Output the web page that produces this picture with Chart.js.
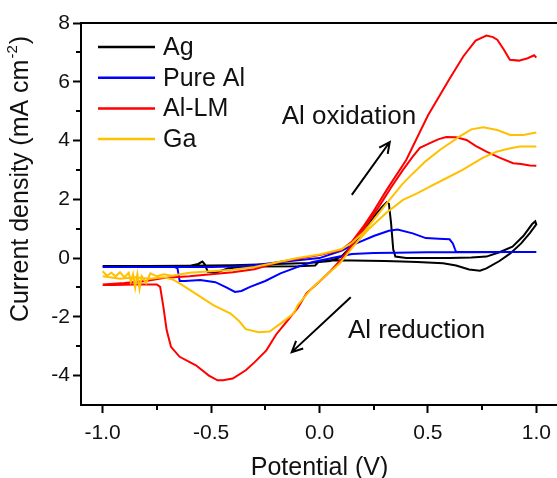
<!DOCTYPE html>
<html>
<head>
<meta charset="utf-8">
<script src="https://cdn.jsdelivr.net/npm/chart.js@4.4.1/dist/chart.umd.min.js"></script>
<style>
    html, body { margin: 0; padding: 0; background: #fff; overflow: hidden; }
    #wrap { width: 600px; height: 478px; }
</style>
</head>
<body>
<div id="wrap"><canvas id="cvChart" width="600" height="478"></canvas></div>
<script>
const seriesLabels = ['Ag', 'Pure Al', 'Al-LM', 'Ga'];
const seriesColors = ['#000000', '#0000ff', '#ff0000', '#ffc000'];

// Ag
const agX = [-1.0, -0.8, -0.6, -0.4, -0.2, -0.05, 0.05, 0.1, 0.15, 0.2, 0.25, 0.29, 0.31, 0.32, 0.33, 0.34, 0.35, 0.4, 0.5, 0.6, 0.7, 0.77, 0.83, 0.89, 0.94, 0.98, 0.995, 1.0,
    0.97, 0.93, 0.88, 0.83, 0.77, 0.74, 0.69, 0.63, 0.57, 0.45, 0.38, 0.3, 0.15, 0.05, 0.0, -0.02, -0.1, -0.3, -0.42, -0.47, -0.515, -0.53, -0.54, -0.56, -0.6, -0.8, -1.0];
const agY = [-0.27, -0.27, -0.26, -0.24, -0.2, -0.17, -0.1, 0.05, 0.42, 0.9, 1.4, 1.75, 1.9, 1.85, 1.2, 0.3, 0.05, 0.0, 0.0, 0.0, 0.02, 0.05, 0.2, 0.39, 0.75, 1.15, 1.25, 1.15,
    0.85, 0.5, 0.16, -0.1, -0.35, -0.43, -0.39, -0.25, -0.18, -0.13, -0.12, -0.1, -0.08, -0.07, -0.1, -0.25, -0.28, -0.29, -0.35, -0.47, -0.47, -0.2, -0.12, -0.2, -0.27, -0.28, -0.28];

// Pure Al
const alX = [-1.0, -0.8, -0.66, -0.5, -0.4, -0.3, -0.2, -0.1, 0.0, 0.1, 0.17, 0.25, 0.32, 0.36, 0.43, 0.49, 0.55, 0.6, 0.615, 0.625, 0.63, 0.7, 0.8, 0.9, 1.0,
    0.9, 0.7, 0.5, 0.35, 0.25, 0.15, 0.08, -0.03, -0.1, -0.18, -0.25, -0.32, -0.36, -0.39, -0.43, -0.48, -0.55, -0.62, -0.645, -0.655, -0.67, -0.8, -1.0];
const alY = [-0.3, -0.3, -0.3, -0.3, -0.29, -0.24, -0.15, -0.07, 0.0, 0.25, 0.5, 0.75, 0.93, 0.97, 0.84, 0.68, 0.66, 0.64, 0.5, 0.3, 0.21, 0.21, 0.21, 0.21, 0.21,
    0.21, 0.2, 0.2, 0.18, 0.17, 0.14, 0.04, -0.13, -0.3, -0.52, -0.78, -0.98, -1.12, -1.15, -1.0, -0.82, -0.75, -0.78, -0.78, -0.35, -0.3, -0.3, -0.3];

// Al-LM (null marks the break between the two sweeps at 1.0 V)
const lmX = [-1.0, -0.9, -0.8, -0.72, -0.6, -0.5, -0.4, -0.3, -0.18, -0.1, 0.0, 0.1, 0.15, 0.2, 0.25, 0.31, 0.4, 0.5, 0.6, 0.663, 0.72, 0.77, 0.8, 0.82, 0.85, 0.878, 0.92, 0.96, 0.99, 1.0, 1.0,
    1.0, 0.97, 0.93, 0.893, 0.83, 0.77, 0.72, 0.678, 0.63, 0.585, 0.55, 0.509, 0.463, 0.43, 0.385, 0.33, 0.27, 0.19, 0.14, 0.1, 0.05, 0.0, -0.06, -0.1, -0.15, -0.2, -0.245, -0.3, -0.34, -0.4, -0.445, -0.47, -0.51, -0.57, -0.645, -0.685, -0.705, -0.72, -0.735, -0.75, -0.85, -0.95, -1.0];
const lmY = [-0.9, -0.85, -0.78, -0.68, -0.62, -0.55, -0.48, -0.38, -0.12, -0.02, 0.1, 0.27, 0.56, 1.05, 1.6, 2.32, 3.34, 4.85, 6.1, 6.86, 7.4, 7.57, 7.52, 7.43, 7.1, 6.75, 6.72, 6.8, 6.9, 6.82, null,
    3.14, 3.15, 3.2, 3.23, 3.42, 3.62, 3.82, 4.02, 4.11, 4.12, 4.05, 3.91, 3.75, 3.45, 3.0, 2.4, 1.7, 0.85, 0.35, -0.05, -0.45, -0.8, -1.2, -1.7, -2.15, -2.6, -3.14, -3.55, -3.82, -4.1, -4.16, -4.16, -4.0, -3.65, -3.36, -3.02, -2.45, -1.66, -0.98, -0.9, -0.9, -0.92, -0.92];

// Ga (null marks the break between the two sweeps at 1.0 V)
const gaX = [-1.0, -0.98, -0.96, -0.94, -0.92, -0.9, -0.88, -0.87, -0.86, -0.85, -0.84, -0.83, -0.82, -0.8, -0.78, -0.75, -0.72, -0.68, -0.6, -0.5, -0.4, -0.3, -0.2, -0.1, 0.0, 0.1, 0.15, 0.2, 0.25, 0.31, 0.38, 0.432, 0.49, 0.555, 0.647, 0.7, 0.755, 0.82, 0.88, 0.94, 1.0, 1.0,
    1.0, 0.924, 0.87, 0.817, 0.75, 0.66, 0.58, 0.509, 0.45, 0.385, 0.31, 0.23, 0.155, 0.094, 0.06, -0.03, -0.1, -0.12, -0.18, -0.23, -0.28, -0.34, -0.37, -0.41, -0.49, -0.57, -0.645, -0.68, -0.72, -0.78, -0.85, -0.92, -1.0];
const gaY = [-0.45, -0.6, -0.5, -0.62, -0.48, -0.66, -0.5, -0.8, -0.55, -1.0, -0.55, -1.05, -0.62, -0.85, -0.52, -0.62, -0.55, -0.6, -0.5, -0.45, -0.4, -0.3, -0.15, 0.0, 0.12, 0.3, 0.52, 0.85, 1.3, 1.86, 2.5, 2.89, 3.3, 3.68, 4.14, 4.38, 4.45, 4.36, 4.19, 4.19, 4.27, null,
    3.8, 3.8, 3.72, 3.62, 3.4, 3.0, 2.7, 2.43, 2.2, 1.98, 1.55, 1.01, 0.39, -0.18, -0.4, -0.98, -1.6, -1.89, -2.23, -2.5, -2.52, -2.42, -2.15, -1.89, -1.6, -1.22, -0.86, -0.72, -0.65, -0.7, -0.65, -0.7, -0.62];

const xTicks = [-1.0, -0.5, 0.0, 0.5, 1.0];
const xMinorTicks = [-0.75, -0.25, 0.25, 0.75];
const yTicks = [-4, -2, 0, 2, 4, 6, 8];
const yMinorTicks = [-3, -1, 1, 3, 5, 7];

const noteTexts = ['Al oxidation', 'Al reduction'];
const noteX = [-0.174, 0.131];
const noteY = [4.81, -2.49];
const arrowFrom = [[0.149, 2.15], [0.144, -1.33]];
const arrowTo = [[0.324, 3.95], [-0.128, -3.2]];

const fontFamily = "'Liberation Sans', Arial, sans-serif";

function toPoints(xs, ys) {
    return xs.map((x, i) => ({ x: x, y: ys[i] }));
}

const extrasPlugin = {
    id: 'extras',
    afterDraw(chart) {
        const ctx = chart.ctx;
        const a = chart.chartArea;
        const sx = chart.scales.x;
        const sy = chart.scales.y;
        ctx.save();

        // frame
        ctx.strokeStyle = '#000';
        ctx.lineWidth = 2;
        ctx.strokeRect(a.left, a.top, a.right - a.left, a.bottom - a.top);

        // minor ticks
        ctx.beginPath();
        xMinorTicks.forEach(v => {
            const px = Math.round(sx.getPixelForValue(v));
            ctx.moveTo(px, a.bottom);
            ctx.lineTo(px, a.bottom + 5);
        });
        yMinorTicks.forEach(v => {
            const py = Math.round(sy.getPixelForValue(v));
            ctx.moveTo(a.left, py);
            ctx.lineTo(a.left - 5, py);
        });
        ctx.stroke();

        // legend
        ctx.font = '25px ' + fontFamily;
        ctx.textBaseline = 'middle';
        ctx.textAlign = 'left';
        chart.data.datasets.forEach((ds, i) => {
            const ly = 47 + i * 30.7;
            ctx.strokeStyle = ds.borderColor;
            ctx.lineWidth = 2.5;
            ctx.beginPath();
            ctx.moveTo(98, ly);
            ctx.lineTo(155, ly);
            ctx.stroke();
            ctx.fillStyle = '#111';
            ctx.fillText(ds.label, 163, ly + 1);
        });

        // annotations
        ctx.font = '26px ' + fontFamily;
        ctx.fillStyle = '#111';
        noteTexts.forEach((t, i) => {
            ctx.fillText(t, sx.getPixelForValue(noteX[i]), sy.getPixelForValue(noteY[i]));
        });
        ctx.strokeStyle = '#000';
        ctx.lineWidth = 2;
        arrowFrom.forEach((f, i) => {
            const x0 = sx.getPixelForValue(f[0]), y0 = sy.getPixelForValue(f[1]);
            const x1 = sx.getPixelForValue(arrowTo[i][0]), y1 = sy.getPixelForValue(arrowTo[i][1]);
            const ang = Math.atan2(y1 - y0, x1 - x0);
            ctx.beginPath();
            ctx.moveTo(x0, y0);
            ctx.lineTo(x1, y1);
            ctx.moveTo(x1 - 12 * Math.cos(ang - 0.45), y1 - 12 * Math.sin(ang - 0.45));
            ctx.lineTo(x1, y1);
            ctx.lineTo(x1 - 12 * Math.cos(ang + 0.45), y1 - 12 * Math.sin(ang + 0.45));
            ctx.stroke();
        });

        // axis titles
        ctx.fillStyle = '#111';
        ctx.font = '25px ' + fontFamily;
        ctx.textAlign = 'center';
        ctx.textBaseline = 'alphabetic';
        ctx.fillText('Potential (V)', sx.getPixelForValue(0), 475);

        ctx.translate(28, 179);
        ctx.rotate(-Math.PI / 2);
        const main = 'Current density (mA cm';
        const sup = '-2';
        const tail = ')';
        ctx.font = '25px ' + fontFamily;
        const wMain = ctx.measureText(main).width;
        const wTail = ctx.measureText(tail).width;
        ctx.font = '15px ' + fontFamily;
        const wSup = ctx.measureText(sup).width;
        const total = wMain + wSup + wTail + 2;
        let tx = -total / 2;
        ctx.textAlign = 'left';
        ctx.font = '25px ' + fontFamily;
        ctx.fillText(main, tx, 0);
        tx += wMain + 1;
        ctx.font = '15px ' + fontFamily;
        ctx.fillText(sup, tx, -11);
        tx += wSup + 1;
        ctx.font = '25px ' + fontFamily;
        ctx.fillText(tail, tx, 0);

        ctx.restore();
    }
};

document.addEventListener('DOMContentLoaded', function () {
    const ctx = document.getElementById('cvChart').getContext('2d');
    const allX = [agX, alX, lmX, gaX];
    const allY = [agY, alY, lmY, gaY];
    new Chart(ctx, {
        type: 'scatter',
        data: {
            datasets: seriesLabels.map((label, i) => ({
                label: label,
                data: toPoints(allX[i], allY[i]),
                showLine: true,
                spanGaps: false,
                borderColor: seriesColors[i],
                backgroundColor: seriesColors[i],
                borderWidth: 2,
                pointRadius: 0,
                tension: 0,
                order: 4 - i
            }))
        },
        options: {
            responsive: false,
            animation: false,
            layout: {
                padding: { top: 23, right: 42, left: 0, bottom: 0 }
            },
            plugins: {
                legend: { display: false },
                tooltip: { enabled: false }
            },
            scales: {
                x: {
                    type: 'linear',
                    min: -1.1,
                    max: 1.1,
                    afterFit: function (scale) { scale.height = 73; },
                    afterBuildTicks: function (scale) {
                        scale.ticks = xTicks.map(v => ({ value: v }));
                    },
                    border: { display: false },
                    grid: {
                        drawOnChartArea: false,
                        drawTicks: true,
                        tickLength: 8,
                        tickWidth: 2,
                        tickColor: '#000'
                    },
                    ticks: {
                        padding: 8,
                        color: '#111',
                        font: { family: fontFamily, size: 21 },
                        maxRotation: 0,
                        callback: function (value) { return Number(value).toFixed(1); }
                    }
                },
                y: {
                    type: 'linear',
                    min: -5,
                    max: 8,
                    afterFit: function (scale) { scale.width = 81; },
                    afterBuildTicks: function (scale) {
                        scale.ticks = yTicks.map(v => ({ value: v }));
                    },
                    border: { display: false },
                    grid: {
                        drawOnChartArea: false,
                        drawTicks: true,
                        tickLength: 8,
                        tickWidth: 2,
                        tickColor: '#000'
                    },
                    ticks: {
                        padding: 3,
                        color: '#111',
                        font: { family: fontFamily, size: 21 },
                        callback: function (value) { return String(value); }
                    }
                }
            }
        },
        plugins: [extrasPlugin]
    });
});
</script>
</body>
</html>
